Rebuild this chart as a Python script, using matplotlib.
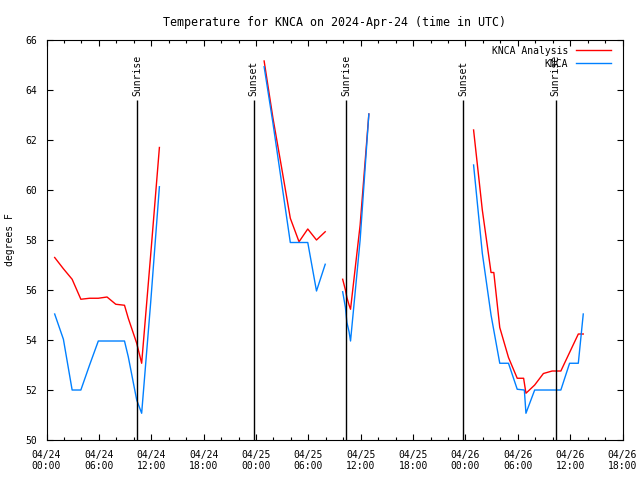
import matplotlib
matplotlib.use('Agg')
import matplotlib.pyplot as plt
import matplotlib.dates as mdates
import pandas as pd

# analysis (red) and observed (blue) temperature, in separate pieces
analysis_times = [
    ['2024-04-24 00:56', '2024-04-24 01:56', '2024-04-24 02:56', '2024-04-24 03:56',
     '2024-04-24 04:56', '2024-04-24 05:56', '2024-04-24 06:56', '2024-04-24 07:56',
     '2024-04-24 08:56', '2024-04-24 09:22', '2024-04-24 10:20', '2024-04-24 10:54',
     '2024-04-24 11:56', '2024-04-24 12:56'],
    ['2024-04-25 00:56', '2024-04-25 01:56', '2024-04-25 02:56', '2024-04-25 03:56',
     '2024-04-25 04:56', '2024-04-25 05:56', '2024-04-25 06:56', '2024-04-25 07:56'],
    ['2024-04-25 09:56', '2024-04-25 10:15', '2024-04-25 10:25', '2024-04-25 10:40',
     '2024-04-25 10:50', '2024-04-25 11:56', '2024-04-25 12:56'],
    ['2024-04-26 00:56', '2024-04-26 01:56', '2024-04-26 02:56', '2024-04-26 03:15',
     '2024-04-26 03:56', '2024-04-26 04:56', '2024-04-26 05:56', '2024-04-26 06:40',
     '2024-04-26 06:56', '2024-04-26 07:56', '2024-04-26 08:56', '2024-04-26 09:56',
     '2024-04-26 10:56', '2024-04-26 11:56', '2024-04-26 12:56', '2024-04-26 13:30'],
]
analysis_temp = [
    [57.3, 56.85, 56.43, 55.63, 55.67, 55.67, 55.72, 55.43, 55.39, 54.87, 53.87, 53.07, 57.4, 61.7],
    [65.16, 62.9, 60.9, 58.87, 57.93, 58.44, 58.0, 58.33],
    [56.43, 56.0, 55.7, 55.4, 55.23, 58.6, 63.04],
    [62.4, 59.2, 56.7, 56.7, 54.5, 53.3, 52.47, 52.47, 51.87, 52.2, 52.66, 52.76,
     52.76, 53.5, 54.24, 54.24],
]

obs_times = [
    ['2024-04-24 00:56', '2024-04-24 01:56', '2024-04-24 02:56', '2024-04-24 03:56',
     '2024-04-24 04:56', '2024-04-24 05:56', '2024-04-24 06:56', '2024-04-24 07:56',
     '2024-04-24 08:56', '2024-04-24 09:22', '2024-04-24 10:20', '2024-04-24 10:54',
     '2024-04-24 11:56', '2024-04-24 12:56'],
    ['2024-04-25 00:56', '2024-04-25 01:56', '2024-04-25 02:56', '2024-04-25 03:56',
     '2024-04-25 04:56', '2024-04-25 05:56', '2024-04-25 06:56', '2024-04-25 07:56'],
    ['2024-04-25 09:56', '2024-04-25 10:15', '2024-04-25 10:25', '2024-04-25 10:40',
     '2024-04-25 10:50', '2024-04-25 11:56', '2024-04-25 12:56'],
    ['2024-04-26 00:56', '2024-04-26 01:56', '2024-04-26 02:56', '2024-04-26 03:56',
     '2024-04-26 04:56', '2024-04-26 05:56', '2024-04-26 06:45', '2024-04-26 06:56',
     '2024-04-26 07:56', '2024-04-26 08:56', '2024-04-26 09:56', '2024-04-26 10:56',
     '2024-04-26 11:56', '2024-04-26 12:56', '2024-04-26 13:30'],
]
obs_temp = [
    [55.04, 54.03, 52.0, 52.0, 53.0, 53.96, 53.96, 53.96, 53.96, 53.33, 51.6, 51.07, 55.5, 60.13],
    [64.93, 62.7, 60.3, 57.9, 57.9, 57.9, 55.96, 57.03],
    [55.93, 55.3, 54.7, 54.33, 53.96, 58.0, 63.04],
    [61.0, 57.47, 55.0, 53.07, 53.07, 52.03, 52.0, 51.07, 52.0, 52.0, 52.0, 52.0,
     53.07, 53.07, 55.04],
]

sun_times = ['2024-04-24 10:23', '2024-04-24 23:43', '2024-04-25 10:22',
             '2024-04-25 23:44', '2024-04-26 10:21']
sun_labels = ['Sunrise', 'Sunset', 'Sunrise', 'Sunset', 'Sunrise']

plt.rcParams['font.family'] = 'DejaVu Sans Mono'
plt.rcParams['font.size'] = 7

fig = plt.figure(figsize=(6.4, 4.8), dpi=100)
ax = fig.add_axes([0.0727, 0.0833, 0.9, 0.8334])

for i in range(len(analysis_times)):
    ax.plot(pd.to_datetime(analysis_times[i]), analysis_temp[i], color='#ff0000', lw=1,
            label='KNCA Analysis' if i == 0 else None)
for i in range(len(obs_times)):
    ax.plot(pd.to_datetime(obs_times[i]), obs_temp[i], color='#0080ff', lw=1,
            label='KNCA' if i == 0 else None)

# sunrise / sunset markers
for t, lab in zip(pd.to_datetime(sun_times), sun_labels):
    ax.vlines(t, 50, 63.6, color='black', lw=1)
    ax.text(t, 63.75, lab, rotation=90, ha='center', va='bottom')

ax.set_xlim(pd.Timestamp('2024-04-24 00:00'), pd.Timestamp('2024-04-26 18:00'))
ax.set_ylim(50, 66)
ax.set_yticks(range(50, 67, 2))
ax.xaxis.set_major_locator(mdates.HourLocator(byhour=[0, 6, 12, 18]))
ax.xaxis.set_minor_locator(mdates.HourLocator(byhour=range(0, 24, 2)))
ax.xaxis.set_major_formatter(mdates.DateFormatter('%m/%d\n%H:%M'))
ax.tick_params(direction='in', top=True, right=True, length=4, width=0.8, pad=7)
ax.tick_params(which='minor', direction='in', top=True, length=2, width=0.8)

ax.set_title('Temperature for KNCA on 2024-Apr-24 (time in UTC)', pad=10)
ax.set_ylabel('degrees F')
ax.yaxis.set_label_coords(-0.055, 0.5)
ax.legend(loc='upper right', bbox_to_anchor=(0.99, 1.0), frameon=False, markerfirst=False,
          handlelength=3.6, borderaxespad=0.2, labelspacing=0.3)

plt.savefig('out.png', dpi=100)
